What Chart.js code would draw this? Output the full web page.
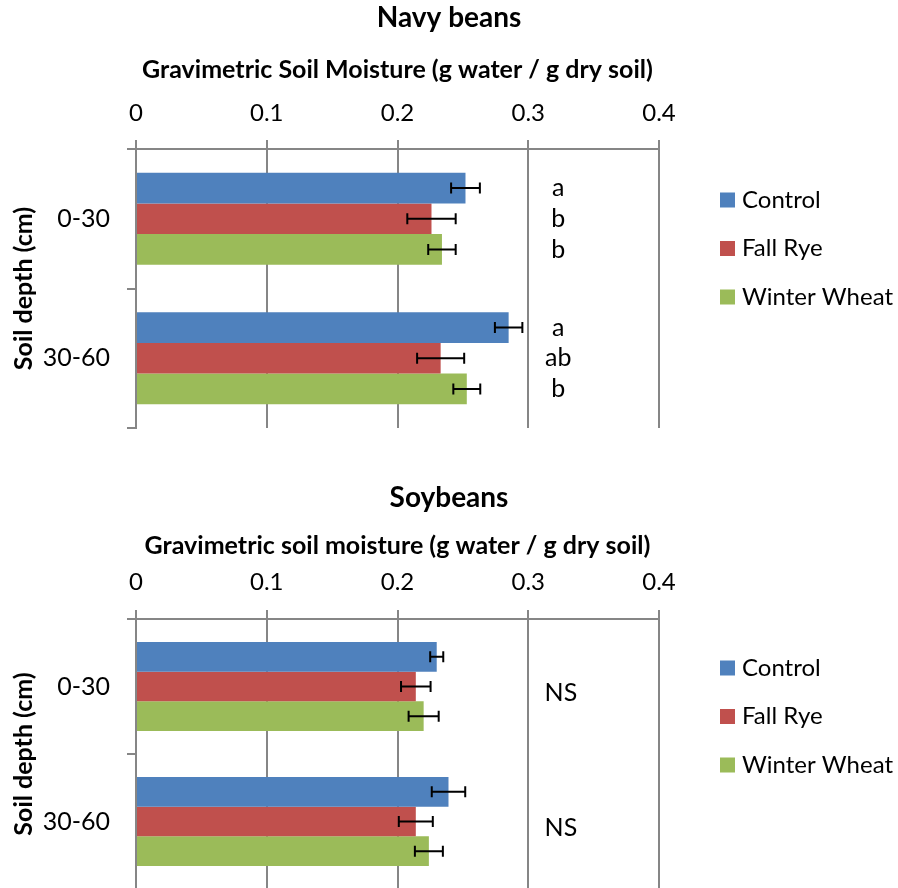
<!DOCTYPE html>
<html><head><meta charset="utf-8">
<script src="https://cdn.jsdelivr.net/npm/chart.js@4.4.0/dist/chart.umd.min.js"></script>
<style>
html,body{margin:0;padding:0;background:#fff;overflow:hidden;}
#wrap{position:relative;width:898px;height:888px;overflow:hidden;}
canvas{position:absolute;left:0;}
</style></head>
<body><div id="wrap">
<canvas id="c1" width="898" height="444" style="top:0"></canvas>
<canvas id="c2" width="898" height="446" style="top:444px"></canvas>
</div>
<script>
// ---------- data ----------
const depths = ['0-30', '30-60'];
const seriesNames = ['Control', 'Fall Rye', 'Winter Wheat'];
const xTicks = [0, 0.1, 0.2, 0.3, 0.4];

// Navy beans
const navyControl = [0.252, 0.285];
const navyFallRye = [0.226, 0.233];
const navyWinterWheat = [0.234, 0.253];
const navyControlErr = [0.011, 0.0105];
const navyFallRyeErr = [0.0185, 0.018];
const navyWinterWheatErr = [0.0105, 0.0103];
const navyLetters = [['a', 'b', 'b'], ['a', 'ab', 'b']]; // per depth, per series

// Soybeans
const soyControl = [0.230, 0.239];
const soyFallRye = [0.214, 0.214];
const soyWinterWheat = [0.220, 0.224];
const soyControlErr = [0.005, 0.0128];
const soyFallRyeErr = [0.0113, 0.013];
const soyWinterWheatErr = [0.0115, 0.0107];
const soyLetters = ['NS', 'NS']; // per depth

// ---------- style ----------
const FONT = 'Lato, "Open Sans", sans-serif';
const COLORS = ['#4F81BD', '#C0504D', '#9BBB59'];
const GRID = '#868686';

const overlay = {
  id: 'overlay',
  afterDatasetsDraw(chart, args, o) {
    const ctx = chart.ctx, xs = chart.scales.x, ys = chart.scales.y;
    ctx.save();
    // error bars
    ctx.strokeStyle = '#000';
    ctx.lineWidth = 2;
    chart.data.datasets.forEach((ds, di) => {
      chart.getDatasetMeta(di).data.forEach((bar, i) => {
        const v = ds.data[i], e = ds.errors[i];
        const x1 = xs.getPixelForValue(v - e), x2 = xs.getPixelForValue(v + e);
        const yc = bar.y;
        ctx.beginPath();
        ctx.moveTo(x1, yc); ctx.lineTo(x2, yc);
        ctx.moveTo(x1, yc - 5.5); ctx.lineTo(x1, yc + 5.5);
        ctx.moveTo(x2, yc - 5.5); ctx.lineTo(x2, yc + 5.5);
        ctx.stroke();
      });
    });
    // significance letters
    ctx.fillStyle = '#000';
    ctx.font = '25px ' + FONT;
    ctx.textAlign = 'center';
    ctx.textBaseline = 'middle';
    const lx = xs.getPixelForValue(o.letterX);
    if (o.barLetters) {
      chart.data.datasets.forEach((ds, di) => {
        chart.getDatasetMeta(di).data.forEach((bar, i) => {
          ctx.fillText(o.barLetters[i][di], lx, bar.y);
        });
      });
    }
    if (o.groupLetters) {
      o.groupLetters.forEach((t, i) => {
        ctx.fillText(t, lx, ys.getPixelForValue(i) + o.groupDy);
      });
    }
    ctx.restore();
  },
  afterDraw(chart, args, o) {
    const ctx = chart.ctx;
    ctx.save();
    // chart title
    ctx.fillStyle = '#000';
    ctx.font = 'bold 28px ' + FONT;
    ctx.textAlign = 'center';
    ctx.textBaseline = 'alphabetic';
    ctx.fillText(o.title, chart.width / 2, o.titleBaseline);
    // legend
    ctx.font = '24px ' + FONT;
    ctx.textAlign = 'left';
    ctx.textBaseline = 'middle';
    chart.data.datasets.forEach((ds, i) => {
      const yc = o.legendTop + i * 48.5;
      ctx.fillStyle = ds.backgroundColor;
      ctx.fillRect(720, yc - 7.5, 15, 15);
      ctx.fillStyle = '#000';
      ctx.fillText(ds.label, 742, yc);
    });
    ctx.restore();
  }
};

function makeChart(id, vals, errs, cfg) {
  return new Chart(document.getElementById(id), {
    type: 'bar',
    data: {
      labels: depths,
      datasets: seriesNames.map((n, i) => ({
        label: n,
        data: vals[i],
        errors: errs[i],
        backgroundColor: COLORS[i],
        borderWidth: 0,
        categoryPercentage: 0.66,
        barPercentage: 1
      }))
    },
    options: {
      indexAxis: 'y',
      responsive: false,
      animation: false,
      devicePixelRatio: 1,
      layout: { padding: { top: cfg.padTop, left: 0, right: 239, bottom: cfg.padBottom } },
      plugins: {
        legend: { display: false },
        title: { display: false },
        tooltip: { enabled: false },
        overlay: cfg.overlay
      },
      scales: {
        x: {
          position: 'top',
          min: 0, max: 0.4,
          afterFit: s => { s.height = cfg.xHeight; },
          afterBuildTicks: s => { s.ticks = xTicks.map(v => ({ value: v })); },
          ticks: {
            color: '#000',
            font: { family: FONT, size: 24 },
            padding: cfg.tickPad,
            callback: v => String(v)
          },
          grid: { color: GRID, lineWidth: 2, tickLength: 9, drawOnChartArea: true, drawTicks: true },
          border: { display: true, color: GRID, width: 2 },
          title: {
            display: true,
            text: cfg.xTitle,
            color: '#000',
            font: { family: FONT, size: 25, weight: 'bold' },
            padding: { top: cfg.xTitlePad, bottom: 0 }
          }
        },
        y: {
          afterFit: s => { s.width = 136; s.paddingTop = 0; s.paddingBottom = 0; },
          ticks: {
            color: '#000',
            font: { family: FONT, size: 25 },
            padding: 17
          },
          grid: { offset: true, drawOnChartArea: false, color: GRID, lineWidth: 2, tickLength: 9 },
          border: { display: true, color: GRID, width: 2 },
          title: {
            display: true,
            text: 'Soil depth (cm)',
            color: '#000',
            font: { family: FONT, size: 25, weight: 'bold' },
            padding: { top: 9, bottom: 0 }
          }
        }
      }
    },
    plugins: [overlay]
  });
}

makeChart('c1',
  [navyControl, navyFallRye, navyWinterWheat],
  [navyControlErr, navyFallRyeErr, navyWinterWheatErr],
  {
    padTop: 30, padBottom: 16, xHeight: 119, tickPad: 12.6, xTitlePad: 25,
    xTitle: 'Gravimetric Soil Moisture (g water / g dry soil)',
    overlay: { title: 'Navy beans', titleBaseline: 27, legendTop: 200, letterX: 0.323, barLetters: navyLetters }
  });

makeChart('c2',
  [soyControl, soyFallRye, soyWinterWheat],
  [soyControlErr, soyFallRyeErr, soyWinterWheatErr],
  {
    padTop: 60, padBottom: 1, xHeight: 115, tickPad: 13.6, xTitlePad: 27,
    xTitle: 'Gravimetric soil moisture (g water / g dry soil)',
    overlay: { title: 'Soybeans', titleBaseline: 63, legendTop: 224, letterX: 0.325, groupLetters: soyLetters, groupDy: 6 }
  });
</script>
</body></html>
